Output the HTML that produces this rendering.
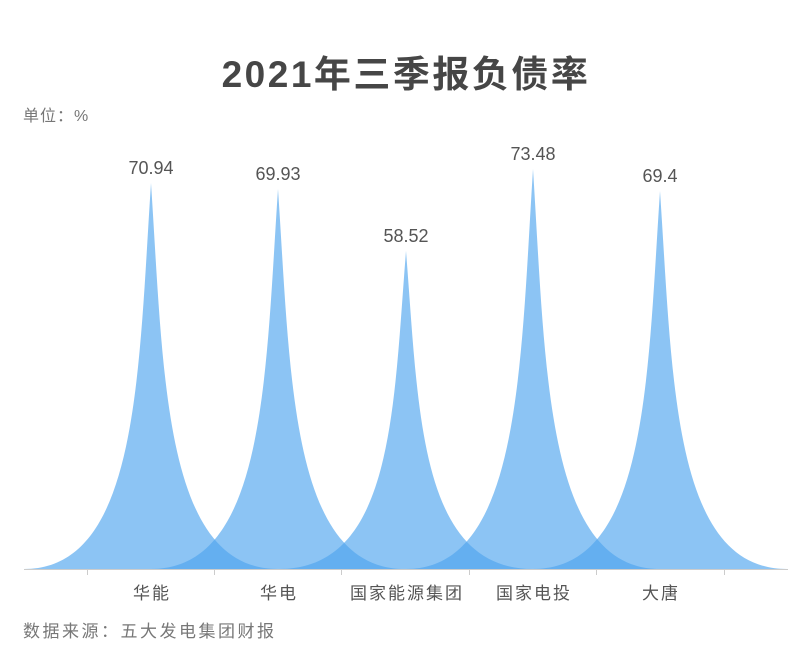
<!DOCTYPE html>
<html><head><meta charset="utf-8"><style>
body{margin:0;background:#fff;}
svg{display:block;font-family:"Liberation Sans","Noto Sans CJK SC",sans-serif;}
</style></head><body>
<svg width="790" height="648" viewBox="0 0 790 648">
<text x="406" y="87" text-anchor="middle" font-size="37" font-weight="bold" letter-spacing="2.5" fill="#464646">2021年三季报负债率</text>
<text x="23" y="121" font-size="16" fill="#777" letter-spacing="1">单位：%</text>
<g fill="rgba(79,165,238,0.65)">
<path d="M24,569 L278,569 C163.7,569 163.7,376 151,183 C138.3,376 138.3,569 24,569Z"/>
<path d="M151,569 L405,569 C290.7,569 290.7,379 278,189 C265.3,379 265.3,569 151,569Z"/>
<path d="M279,569 L533,569 C418.7,569 418.7,410 406,251 C393.3,410 393.3,569 279,569Z"/>
<path d="M406,569 L660,569 C545.7,569 545.7,369 533,169 C520.3,369 520.3,569 406,569Z"/>
<path d="M533,569 L787,569 C672.7,569 672.7,380 660,191 C647.3,380 647.3,569 533,569Z"/>
</g>
<line x1="24" y1="569.5" x2="788" y2="569.5" stroke="#ccc" stroke-width="1"/>
<g stroke="#ccc"><line x1="87.5" y1="569" x2="87.5" y2="575"/><line x1="214.5" y1="569" x2="214.5" y2="575"/><line x1="341.5" y1="569" x2="341.5" y2="575"/><line x1="469.5" y1="569" x2="469.5" y2="575"/><line x1="596.5" y1="569" x2="596.5" y2="575"/><line x1="724.5" y1="569" x2="724.5" y2="575"/></g>
<g font-size="18" fill="#555" text-anchor="middle">
<text x="151" y="174">70.94</text><text x="278" y="180">69.93</text><text x="406" y="242">58.52</text><text x="533" y="160">73.48</text><text x="660" y="182">69.4</text>
</g>
<g font-size="17" fill="#555" text-anchor="middle" letter-spacing="2">
<text x="152" y="599">华能</text><text x="279" y="599">华电</text><text x="407" y="599">国家能源集团</text><text x="534" y="599">国家电投</text><text x="661" y="599">大唐</text>
</g>
<text x="23" y="637" font-size="17" fill="#777" letter-spacing="2.5">数据来源：五大发电集团财报</text>
</svg>
</body></html>
